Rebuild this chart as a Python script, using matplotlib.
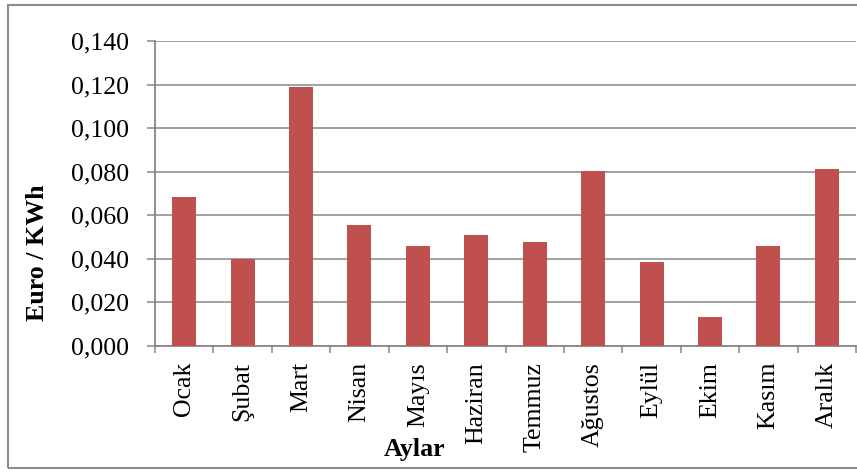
import matplotlib
matplotlib.use('Agg')
import matplotlib.pyplot as plt
import numpy as np
from matplotlib.patches import Rectangle
from matplotlib.ticker import FuncFormatter, MultipleLocator

aylar = ['Ocak', 'Şubat', 'Mart', 'Nisan', 'Mayıs', 'Haziran',
         'Temmuz', 'Ağustos', 'Eylül', 'Ekim', 'Kasım', 'Aralık']
fiyat = [0.0684, 0.0399, 0.1189, 0.0555, 0.0459, 0.0510,
         0.0477, 0.0803, 0.0387, 0.0132, 0.0459, 0.0811]

grey = '#878787'
plt.rcParams['font.family'] = ['Liberation Serif', 'DejaVu Serif']

fig = plt.figure(figsize=(8.57, 4.73), dpi=100)
ax = fig.add_axes([155 / 857, 1 - 346 / 473, 701 / 857, 305 / 473])

x = np.arange(len(aylar))
ax.bar(x, fiyat, width=0.41, color='#C0504D', zorder=3)

ax.set_xlim(-0.5, len(aylar) - 0.5)
ax.set_ylim(0, 0.14)
ax.yaxis.set_major_locator(MultipleLocator(0.02))
ax.yaxis.set_major_formatter(FuncFormatter(lambda v, p: f'{v:.3f}'.replace('.', ',')))
ax.grid(axis='y', color=grey, linewidth=1.1, zorder=0)

ax.set_xticks(x)
ax.set_xticklabels(aylar, rotation=90, fontsize=18.6)
ax.set_xticks(np.arange(-0.5, len(aylar)), minor=True)
ax.tick_params(axis='x', which='major', length=0, pad=11.5)
ax.tick_params(axis='x', which='minor', length=5, width=1.1, color=grey)
ax.tick_params(axis='y', length=5.8, width=1.1, color=grey, pad=13, labelsize=18.6)

for side in ['top', 'right']:
    ax.spines[side].set_visible(False)
for side in ['left', 'bottom']:
    ax.spines[side].set_color(grey)
    ax.spines[side].set_linewidth(1.3)

fig.text(37 / 857, 1 - 253 / 473, 'Euro / KWh', rotation=90, fontsize=18.6,
         fontweight='bold', ha='center', va='center')
fig.text(415 / 857, 1 - 449 / 473, 'Aylar', fontsize=18.6,
         fontweight='bold', ha='center', va='center')

# chart frame
fig.patches.append(Rectangle((8 / 857, 1 - 468 / 473), 1.0, 463 / 473,
                             transform=fig.transFigure, fill=False,
                             edgecolor='#8c8c8c', linewidth=1.5))

fig.savefig('out.png', dpi=100)
